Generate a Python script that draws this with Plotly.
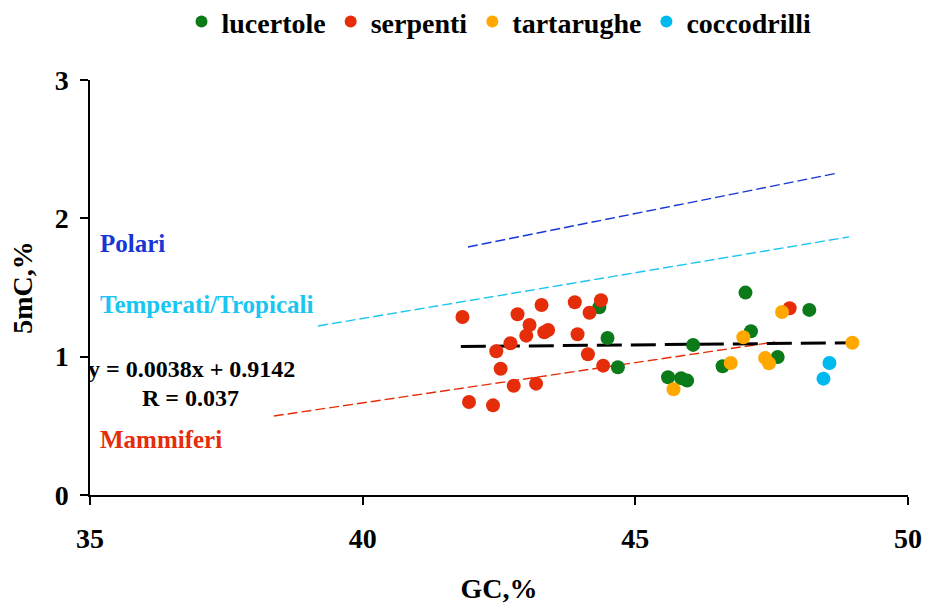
import plotly.graph_objects as go

# GC content (%) and 5mC (%) per species group
lucertole_gc = [44.34, 44.49, 44.68, 47.02, 48.19, 47.12, 46.06, 47.61, 46.60, 45.60, 45.84, 45.95]
lucertole_mc = [1.357, 1.135, 0.923, 1.463, 1.338, 1.184, 1.085, 0.998, 0.931, 0.851, 0.844, 0.827]

serpenti_gc = [41.83, 42.84, 43.28, 43.89, 44.16, 44.37, 43.06, 43.00, 43.33, 43.40, 43.94,
               42.71, 42.45, 44.13, 42.53, 44.41, 42.77, 43.18, 41.95, 42.39, 47.83]
serpenti_mc = [1.287, 1.307, 1.374, 1.393, 1.318, 1.408, 1.229, 1.152, 1.176, 1.193, 1.162,
               1.097, 1.039, 1.017, 0.913, 0.935, 0.790, 0.805, 0.672, 0.648, 1.350]

tartarughe_gc = [47.69, 46.98, 48.98, 46.75, 47.38, 47.45, 45.70]
tartarughe_mc = [1.323, 1.140, 1.101, 0.954, 0.991, 0.952, 0.764]

coccodrilli_gc = [48.56, 48.45]
coccodrilli_mc = [0.954, 0.841]

# Reference trend lines (start/end points)
polari_gc = [41.93, 48.72]
polari_mc = [1.793, 2.328]
temperati_gc = [39.18, 48.92]
temperati_mc = [1.222, 1.866]
mammiferi_gc = [38.37, 47.56]
mammiferi_mc = [0.571, 1.106]

# Linear fit over reptiles
slope, intercept = 0.0038, 0.9142
fit_gc = [41.80, 48.99]
fit_mc = [slope * g + intercept for g in fit_gc]

GREEN = "#0b7a18"
RED = "#e62d0a"
ORANGE = "#ffa800"
CYAN = "#00b9ef"
BLUE = "#1636d6"
LCYAN = "#19c6f2"

FONT = "Liberation Serif"


def bold(size, color="black"):
    return dict(family=FONT, size=size, color=color, weight="bold")


fig = go.Figure()

# trend lines
thin_dash = "10px,4px"
fig.add_trace(go.Scatter(x=polari_gc, y=polari_mc, mode="lines", showlegend=False,
                         line=dict(color=BLUE, width=1.4, dash=thin_dash)))
fig.add_trace(go.Scatter(x=temperati_gc, y=temperati_mc, mode="lines", showlegend=False,
                         line=dict(color=LCYAN, width=1.4, dash=thin_dash)))
fig.add_trace(go.Scatter(x=mammiferi_gc, y=mammiferi_mc, mode="lines", showlegend=False,
                         line=dict(color=RED, width=1.4, dash=thin_dash)))
fig.add_trace(go.Scatter(x=fit_gc, y=fit_mc, mode="lines", showlegend=False,
                         line=dict(color="black", width=3, dash="25px,9px")))

groups = [
    ("lucertole", lucertole_gc, lucertole_mc, GREEN),
    ("serpenti", serpenti_gc, serpenti_mc, RED),
    ("tartarughe", tartarughe_gc, tartarughe_mc, ORANGE),
    ("coccodrilli", coccodrilli_gc, coccodrilli_mc, CYAN),
]
for name, gx, gy, col in groups:
    fig.add_trace(go.Scatter(x=gx, y=gy, mode="markers", name=name,
                             marker=dict(color=col, size=14, line=dict(width=0))))

labels = [
    (1.815, "Polari", BLUE),
    (1.374, "Temperati/Tropicali", LCYAN),
    (0.398, "Mammiferi", RED),
]
for yv, txt, col in labels:
    fig.add_annotation(x=35.147, y=yv, xref="x", yref="y", text=txt, showarrow=False,
                       xanchor="left", yanchor="middle", font=bold(25, col))

fig.add_annotation(x=36.87, y=0.911, xref="x", yref="y", showarrow=False,
                   text="y = 0.0038x + 0.9142", font=bold(24),
                   xanchor="center", yanchor="middle")
fig.add_annotation(x=36.85, y=0.70, xref="x", yref="y", showarrow=False,
                   text="R = 0.037", font=bold(24),
                   xanchor="center", yanchor="middle")

fig.update_layout(
    width=930, height=604,
    margin=dict(l=90, r=22, t=80, b=109, autoexpand=False),
    paper_bgcolor="white", plot_bgcolor="white",
    font=dict(family=FONT, color="black"),
    showlegend=True,
    legend=dict(orientation="h", x=0.5, xanchor="center", y=1.14, yanchor="middle",
                font=bold(28), itemwidth=30, itemsizing="constant",
                bgcolor="rgba(0,0,0,0)"),
)

fig.update_xaxes(
    range=[35, 50], tickvals=[35, 40, 45, 50],
    showgrid=False, zeroline=False, showline=True, linecolor="black", linewidth=1.5,
    ticks="outside", ticklen=8, tickwidth=1.5, tickcolor="black",
    tickfont=bold(28), ticklabelstandoff=10,
    title=dict(text="GC,%", font=bold(28), standoff=26),
)
fig.update_yaxes(
    range=[0, 3], tickvals=[0, 1, 2, 3],
    showgrid=False, zeroline=False, showline=True, linecolor="black", linewidth=1.5,
    ticks="outside", ticklen=8, tickwidth=1.5, tickcolor="black",
    tickfont=bold(28), ticklabelstandoff=6,
    title=dict(text="5mC,%", font=bold(28), standoff=14),
)

fig.write_html("out.html")
